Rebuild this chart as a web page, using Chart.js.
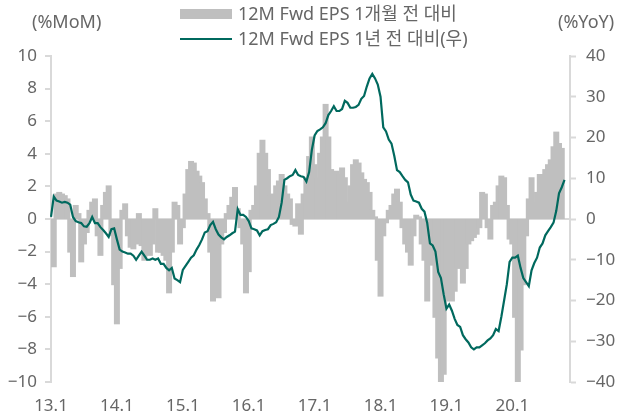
<!DOCTYPE html>
<html>
<head>
<meta charset="utf-8">
<script src="https://cdn.jsdelivr.net/npm/chart.js@4.4.1/dist/chart.umd.min.js"></script>
<style>
  body { margin: 0; background: #fff; }
  #wrap { position: relative; width: 620px; height: 416px; font-family: "Noto Sans", "Noto Sans CJK KR", sans-serif; color: #666; }
  #chart { position: absolute; left: 0; top: 0; }
  .txt { position: absolute; font-size: 18px; line-height: 20px; white-space: nowrap; }
  .box { position: absolute; left: 180px; width: 52px; }
</style>
</head>
<body>
<div id="wrap">
  <canvas id="chart" width="620" height="416"></canvas>
  <div class="txt" style="left:32px; top:11px;">(%MoM)</div>
  <div class="txt" style="left:558px; top:11px;">(%YoY)</div>
  <div class="box" style="top:9px; height:10px; background:#BFBFBF;"></div>
  <div class="txt" style="left:238px; top:3px;">12M Fwd EPS 1개월 전 대비</div>
  <div class="box" style="top:38px; height:2px; background:#00695E;"></div>
  <div class="txt" style="left:238px; top:28px;">12M Fwd EPS 1년 전 대비(우)</div>
</div>
<script>
const tickLabels = ["13.1", "14.1", "15.1", "16.1", "17.1", "18.1", "19.1", "20.1"];
const perYear = 24; // two readings per month

// 12M Fwd EPS, change vs 1 month ago (%MoM, left axis)
const momValues = [
  -1.0, -2.9, 1.5, 1.6, 1.5, 1.4, 1.2, -2.0, -3.5, 0.8, 0.3, -2.6, -1.5, -0.8, 0.5, 1.0, 1.2, -1.0, -2.2, 0.8, 1.6, 2.0, -1.0, -4.0,
  -6.4, -3.0, 0.5, 0.9, -1.0, -1.7, -1.8, -1.5, 0.3, -1.6, -2.5, -1.6, -2.2, -1.5, 0.6, -2.0, -2.0, -2.2, -2.5, -4.5, -2.0, 1.0, 0.8, -1.5,
  -0.5, 1.5, 3.0, 3.5, 3.4, 2.9, 2.6, 2.2, 1.2, 0.3, -2.0, -5.0, -3.5, -4.8, -1.5, -0.8, 0.3, 0.8, 1.3, 1.9, 0.6, -0.5, -1.5, -4.5,
  -3.2, 0.5, 0.8, 2.0, 4.0, 4.8, 4.0, 3.0, 1.4, 1.5, 2.0, 2.3, 2.7, 2.0, 1.5, 1.2, -0.3, -0.4, 0.9, -0.9, 1.5, 2.5, 3.8, 5.0,
  3.3, 2.5, 4.0, 5.0, 7.0, 5.0, 3.0, 1.4, 2.9, 2.7, 3.1, 2.5, 1.0, 2.0, 3.3, 3.6, 3.4, 2.8, 2.4, 2.2, 1.6, 0.5, 0.1, -2.5,
  -4.7, -1.0, -0.2, 0.5, 0.8, 1.5, 1.8, 1.0, -0.5, -1.5, -2.0, -2.8, -1.0, 0.2, 0.1, -1.5, -2.5, -5.0, -2.5, -2.8, -6.0, -8.5, -10.0, -9.5,
  -5.0, -4.5, -5.0, -4.4, -3.0, -2.5, -3.9, -3.0, -1.5, -1.3, -1.1, -0.9, -0.5, 1.6, 1.5, -0.5, -1.2, 0.8, 1.0, 2.0, 2.6, 2.5, 0.8, -1.2,
  -1.5, -6.0, -10.0, -8.0, -4.0, -1.0, 1.2, 2.5, 1.0, 1.6, 2.7, 2.7, 3.0, 3.3, 3.6, 4.4, 5.3, 4.6, 4.3, null, null, null
];

// 12M Fwd EPS, change vs 1 year ago (%YoY, right axis)
const yoyValues = [
  0.5, 5.5, 4.5, 4.3, 4.0, 4.2, 4.0, 3.5, 0.5, -0.5, -0.8, -1.0, -1.8, -1.9, -1.0, 0.5, -1.0, -1.0, -2.0, -2.7, -3.5, -4.4, -2.5, -2.3,
  -5.0, -7.5, -8.0, -8.2, -8.5, -8.5, -9.0, -10.0, -9.0, -8.0, -9.0, -10.0, -10.0, -9.7, -10.0, -9.7, -11.0, -11.0, -12.0, -12.6, -12.0, -14.6, -15.0, -15.5,
  -12.5, -11.5, -10.5, -9.5, -8.9, -7.5, -6.4, -5.0, -3.3, -3.0, -1.5, -0.7, -2.5, -3.8, -4.5, -5.0, -4.4, -4.0, -3.5, -3.1, 2.4, 1.0, 1.0, 0.5,
  -0.5, -2.3, -2.5, -2.8, -4.0, -3.0, -2.7, -2.5, -1.5, -1.2, -0.8, 0.5, 4.0, 9.6, 10.0, 10.5, 10.8, 12.0, 10.8, 10.5, 10.3, 9.2, 11.5, 17.0,
  20.5, 21.6, 22.0, 22.5, 23.5, 25.5, 26.5, 27.7, 26.5, 26.5, 27.0, 29.0, 28.5, 27.3, 27.3, 27.5, 28.0, 29.5, 30.2, 32.5, 34.5, 35.6, 34.5, 33.0,
  30.0, 22.5, 21.5, 19.5, 18.5, 15.5, 12.0, 11.5, 10.5, 9.6, 9.0, 6.0, 4.5, 4.3, 4.0, 2.5, 1.8, -1.0, -6.0, -6.5, -8.0, -13.0, -14.5, -18.5,
  -22.0, -21.0, -22.5, -24.5, -26.0, -26.5, -28.5, -29.5, -30.3, -31.5, -32.0, -31.5, -31.5, -31.0, -30.5, -29.8, -29.3, -28.5, -27.0, -27.5, -24.0, -20.0, -16.0, -10.5,
  -9.5, -9.5, -9.0, -12.0, -14.5, -15.5, -16.5, -12.6, -10.8, -9.5, -7.0, -6.0, -4.0, -3.0, -2.0, -0.9, 2.0, 6.3, 7.8, 9.6, null, null
];

const categories = momValues.map((v, i) => {
  const year = 13 + Math.floor(i / perYear);
  const month = Math.floor((i % perYear) / 2) + 1;
  return year + "." + month + (i % 2 ? "b" : "a");
});

const axisGray = "#D9D9D9";
const tickFont = { family: "'Noto Sans', sans-serif", size: 17 };

function fmt(v) {
  return v < 0 ? "\u2212" + Math.abs(v) : String(v);
}

new Chart(document.getElementById("chart"), {
  data: {
    labels: categories,
    datasets: [
      {
        type: "line",
        label: "12M Fwd EPS 1년 전 대비(우)",
        data: yoyValues,
        yAxisID: "y1",
        borderColor: "#00695E",
        borderWidth: 2.2,
        pointRadius: 0,
        tension: 0,
        order: 1
      },
      {
        type: "bar",
        label: "12M Fwd EPS 1개월 전 대비",
        data: momValues,
        yAxisID: "y",
        backgroundColor: "#BFBFBF",
        borderWidth: 0,
        barThickness: 4,
        inflateAmount: 1,
        order: 2
      }
    ]
  },
  options: {
    responsive: false,
    animation: false,
    devicePixelRatio: 1,
    layout: { padding: { top: 56, left: 0, right: 0, bottom: 0 } },
    plugins: { legend: { display: false }, tooltip: { enabled: false } },
    scales: {
      x: {
        type: "category",
        offset: false,
        grid: { display: false },
        border: { display: false },
        ticks: {
          autoSkip: false,
          maxRotation: 0,
          padding: 6,
          color: "#666",
          font: tickFont,
          callback: (val, i) => (i % perYear === 0 ? tickLabels[i / perYear] : "")
        },
        afterFit: s => { s.height = 34; }
      },
      y: {
        position: "left",
        min: -10,
        max: 10,
        z: 1,
        ticks: { stepSize: 2, padding: 8, color: "#666", font: tickFont, callback: fmt },
        grid: {
          color: c => (c.tick.value === 0 ? axisGray : "rgba(0,0,0,0)"),
          lineWidth: 2,
          tickColor: axisGray,
          tickLength: 6,
          tickWidth: 2
        },
        border: { display: true, color: axisGray, width: 2 },
        afterFit: s => { s.width = 51; }
      },
      y1: {
        position: "right",
        min: -40,
        max: 40,
        ticks: { stepSize: 10, padding: 10, color: "#666", font: tickFont, callback: fmt },
        grid: {
          drawOnChartArea: false,
          tickColor: axisGray,
          tickLength: 6,
          tickWidth: 2
        },
        border: { display: true, color: axisGray, width: 2 },
        afterFit: s => { s.width = 50; }
      }
    }
  }
});
</script>
</body>
</html>
